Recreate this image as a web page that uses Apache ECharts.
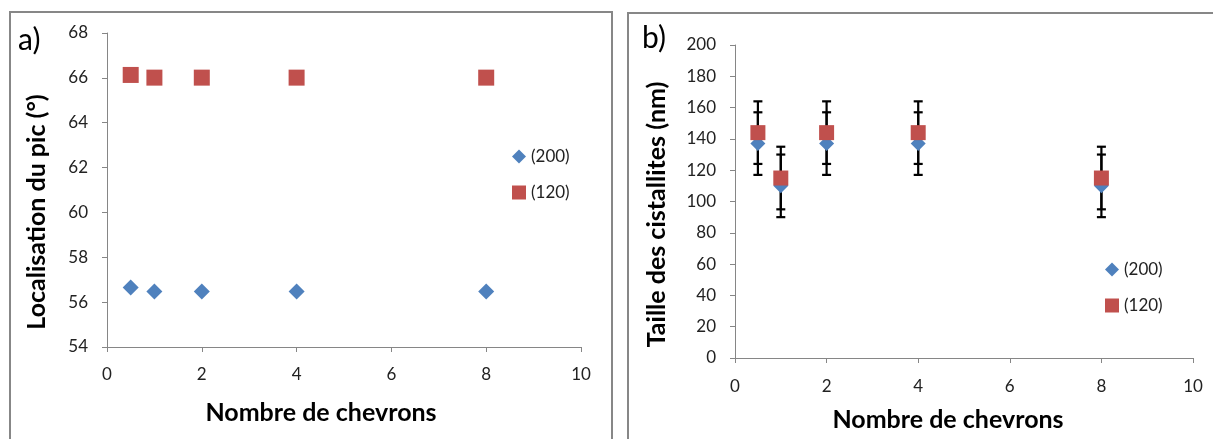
<!DOCTYPE html>
<html><head><meta charset="utf-8">
<script src="https://cdn.jsdelivr.net/npm/echarts@6/dist/echarts.min.js"></script>
<style>html,body{margin:0;padding:0;background:#fff}#c{width:1213px;height:439px}</style>
</head><body><div id="c"></div>
<script>
// Data
const chevrons = [0.5, 1, 2, 4, 8];
const peak200 = [56.65, 56.47, 56.47, 56.47, 56.47];
const peak120 = [66.13, 66.01, 66.01, 66.01, 66.01];
const size200 = [137, 110, 137, 137, 110];
const size120 = [144, 115, 144, 144, 115];
const err200 = [20, 20, 20, 20, 20];
const err120 = [20, 20, 20, 20, 20];
const seriesNames = ['(200)', '(120)'];
const xTitle = 'Nombre de chevrons';
const yTitleA = 'Localisation du pic (°)';
const yTitleB = 'Taille des cistallites (nm)';

const BLUE = '#4F81BD', RED = '#C0504D';
const FONT = 'Lato, "Liberation Sans", sans-serif';

const pts = (ys) => chevrons.map((x, i) => [x, ys[i]]);
const errPts = (ys, es) => chevrons.map((x, i) => [x, ys[i] - es[i], ys[i] + es[i]]);

function errRender(params, api) {
  const x = api.value(0), lo = api.value(1), hi = api.value(2);
  const pLo = api.coord([x, lo]), pHi = api.coord([x, hi]);
  const w = 4.5;
  const style = { stroke: '#000', lineWidth: 2.2 };
  return { type: 'group', children: [
    { type: 'line', shape: { x1: pLo[0], y1: pLo[1], x2: pHi[0], y2: pHi[1] }, style },
    { type: 'line', shape: { x1: pLo[0] - w, y1: pLo[1], x2: pLo[0] + w, y2: pLo[1] }, style },
    { type: 'line', shape: { x1: pHi[0] - w, y1: pHi[1], x2: pHi[0] + w, y2: pHi[1] }, style }
  ]};
}

const axisLine = { show: true, lineStyle: { color: '#868686', width: 1 } };
const axisTick = { show: true, inside: false, length: 5, lineStyle: { color: '#868686' } };
const labelStyle = { color: '#222', fontSize: 17, fontFamily: FONT };
const titleStyle = { color: '#000', fontSize: 25, fontWeight: 'bold', fontFamily: FONT };

function xAxis(gridIndex, gap, margin, pad) {
  return {
    type: 'value', gridIndex, min: 0, max: 10, interval: 2,
    axisLine, axisTick, splitLine: { show: false },
    axisLabel: Object.assign({ margin }, labelStyle),
    name: xTitle, nameLocation: 'middle', nameGap: gap,
    nameTextStyle: Object.assign({ padding: pad }, titleStyle)
  };
}
function yAxis(gridIndex, min, max, interval, name, gap, pad) {
  return {
    type: 'value', gridIndex, min, max, interval,
    axisLine, axisTick, splitLine: { show: false },
    axisLabel: Object.assign({ margin: 19 }, labelStyle),
    name, nameLocation: 'middle', nameGap: gap,
    nameTextStyle: Object.assign({ padding: pad }, titleStyle)
  };
}

const legendText = { color: '#222', fontSize: 17, fontFamily: FONT };
const legendData = [{ name: seriesNames[0], icon: 'diamond' }, { name: seriesNames[1], icon: 'rect' }];

const chart = echarts.init(document.getElementById('c'));
chart.setOption({
  animation: false,
  backgroundColor: '#fff',
  grid: [
    { left: 107, top: 33, width: 474, height: 314 },
    { left: 735, top: 45, width: 458, height: 313 }
  ],
  xAxis: [xAxis(0, 53, 19, [0, 46, 0, 0]), xAxis(1, 49, 20, [0, 32, 0, 0])],
  yAxis: [
    yAxis(0, 54, 68, 2, yTitleA, 58, [0, 44, 0, 0]),
    yAxis(1, 0, 200, 20, yTitleB, 66, [0, 26, 0, 0])
  ],
  legend: [
    { orient: 'vertical', left: 507, top: 143, itemWidth: 14, itemHeight: 14, itemGap: 19,
      textStyle: legendText, data: legendData },
    { orient: 'vertical', left: 1100, top: 256, itemWidth: 14, itemHeight: 14, itemGap: 19,
      textStyle: legendText, data: legendData }
  ],
  graphic: [
    { type: 'rect', shape: { x: 10, y: 12, width: 602, height: 440 }, style: { fill: 'none', stroke: '#878787', lineWidth: 2 }, silent: true },
    { type: 'rect', shape: { x: 628, y: 13, width: 600, height: 440 }, style: { fill: 'none', stroke: '#878787', lineWidth: 2 }, silent: true },
    { type: 'text', x: 18, y: 40, style: { text: 'a)', fontSize: 30, fontFamily: FONT, fill: '#000', verticalAlign: 'middle' } },
    { type: 'text', x: 642, y: 38, style: { text: 'b)', fontSize: 30, fontFamily: FONT, fill: '#000', verticalAlign: 'middle' } }
  ],
  series: [
    { name: seriesNames[0], type: 'scatter', xAxisIndex: 0, yAxisIndex: 0, data: pts(peak200),
      symbol: 'diamond', symbolSize: 16, itemStyle: { color: BLUE, opacity: 1 } },
    { name: seriesNames[1], type: 'scatter', xAxisIndex: 0, yAxisIndex: 0, data: pts(peak120),
      symbol: 'rect', symbolSize: 16, itemStyle: { color: RED, opacity: 1 } },
    { type: 'custom', xAxisIndex: 1, yAxisIndex: 1, data: errPts(size200, err200), renderItem: errRender,
      encode: { x: 0, y: [1, 2] }, silent: true, z: 1 },
    { type: 'custom', xAxisIndex: 1, yAxisIndex: 1, data: errPts(size120, err120), renderItem: errRender,
      encode: { x: 0, y: [1, 2] }, silent: true, z: 1 },
    { name: seriesNames[0], type: 'scatter', xAxisIndex: 1, yAxisIndex: 1, data: pts(size200),
      symbol: 'diamond', symbolSize: 15, itemStyle: { color: BLUE, opacity: 1 }, z: 3 },
    { name: seriesNames[1], type: 'scatter', xAxisIndex: 1, yAxisIndex: 1, data: pts(size120),
      symbol: 'rect', symbolSize: 15, itemStyle: { color: RED, opacity: 1 }, z: 4 }
  ]
});
</script>
</body></html>
